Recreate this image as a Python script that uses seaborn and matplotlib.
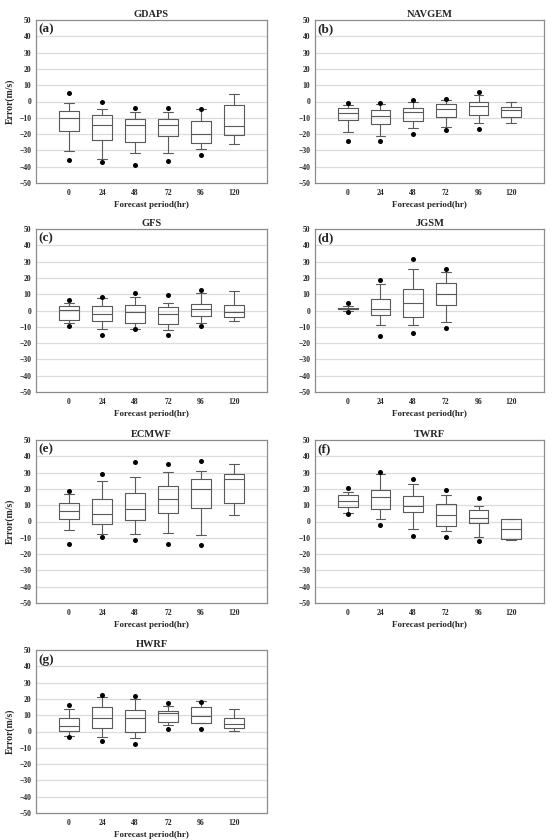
import numpy as np
import pandas as pd
import matplotlib
matplotlib.use("Agg")
import matplotlib.pyplot as plt
import seaborn as sns

# forecast lead times (x categories)
HOURS = ["0", "24", "48", "72", "96", "120"]

# box statistics (m/s): lower whisker, Q1, median, Q3, upper whisker, low/high outliers
GDAPS_WLO = [-30.6, -35.0, -31.9, -31.7, -29.2, -25.9]
GDAPS_Q1 = [-18.3, -23.8, -24.7, -21.4, -25.3, -20.8]
GDAPS_MED = [-10.4, -14.7, -14.7, -14.7, -19.8, -15.0]
GDAPS_Q3 = [-5.6, -8.3, -10.9, -10.9, -12.1, -1.9]
GDAPS_WHI = [-0.7, -4.5, -6.2, -6.2, -4.5, 4.3]
GDAPS_OLO = [-36.0, -37.2, -38.7, -36.4, -33.1, None]
GDAPS_OHI = [5.5, -0.5, -4.2, -4.2, -4.5, None]

NAVGEM_WLO = [-18.6, -21.0, -16.2, -15.6, -13.3, -13.1]
NAVGEM_Q1 = [-11.5, -13.5, -11.9, -9.5, -8.4, -9.6]
NAVGEM_MED = [-7.3, -9.2, -6.6, -4.4, -2.7, -5.3]
NAVGEM_Q3 = [-4.2, -5.5, -3.9, -1.3, -0.5, -3.1]
NAVGEM_WHI = [-2.3, -1.8, -0.6, 0.8, 3.7, 0.0]
NAVGEM_OLO = [-24.0, -24.4, -20.0, -17.4, -16.6, None]
NAVGEM_OHI = [-1.2, -0.8, 0.8, 1.6, 5.7, None]

GFS_WLO = [-7.8, -11.3, -11.3, -11.9, -7.6, -6.6]
GFS_Q1 = [-6.1, -6.6, -7.8, -8.4, -3.1, -3.9]
GFS_MED = [0.4, -2.0, -1.0, -2.3, 1.0, -1.0]
GFS_Q3 = [2.7, 2.9, 3.3, 2.3, 3.7, 3.3]
GFS_WHI = [4.9, 7.6, 8.4, 4.9, 10.5, 11.7]
GFS_OLO = [-9.8, -14.8, -11.5, -14.8, -9.8, None]
GFS_OHI = [6.4, 8.0, 10.5, 9.8, 12.6, None]

JGSM_WLO = [-0.5, -9.0, -8.6, -6.8, None, None]
JGSM_Q1 = [0.8, -2.9, -4.1, 3.3, None, None]
JGSM_MED = [1.2, 1.2, 4.5, 10.0, None, None]
JGSM_Q3 = [1.6, 6.8, 13.3, 16.8, None, None]
JGSM_WHI = [3.0, 16.4, 25.2, 23.6, None, None]
JGSM_OLO = [-1.2, -15.6, -13.9, -10.7, None, None]
JGSM_OHI = [4.4, 18.9, 31.8, 25.6, None, None]

ECMWF_WLO = [-5.1, -7.6, -7.4, -6.8, -8.0, 3.7]
ECMWF_Q1 = [1.8, -1.8, 0.8, 5.1, 8.0, 11.1]
ECMWF_MED = [6.6, 4.9, 7.4, 13.7, 20.1, 25.8]
ECMWF_Q3 = [11.1, 14.1, 17.2, 21.9, 25.8, 29.1]
ECMWF_WHI = [16.8, 25.0, 27.5, 30.1, 30.9, 35.5]
ECMWF_OLO = [-13.9, -9.8, -11.1, -14.1, -14.5, None]
ECMWF_OHI = [18.9, 28.9, 36.3, 35.0, 37.3, None]

TWRF_WLO = [5.3, 1.8, -4.9, -6.1, -9.8, -11.1]
TWRF_Q1 = [8.6, 7.8, 5.7, -2.9, -1.2, -10.9]
TWRF_MED = [12.7, 14.8, 9.8, 4.1, 2.0, -4.5]
TWRF_Q3 = [16.0, 19.5, 15.4, 10.7, 7.0, 1.4]
TWRF_WHI = [17.8, 29.1, 22.7, 16.2, 9.8, 1.6]
TWRF_OLO = [4.5, -2.3, -8.8, -9.8, -11.9, None]
TWRF_OHI = [20.5, 30.1, 25.8, 19.1, 14.3, None]

HWRF_WLO = [-2.5, -3.3, -3.9, 4.1, 5.1, 0.4]
HWRF_Q1 = [0.6, 2.3, 0.0, 5.9, 5.5, 2.0]
HWRF_MED = [3.5, 8.4, 8.0, 11.1, 9.8, 4.9]
HWRF_Q3 = [8.4, 15.0, 13.1, 12.7, 15.2, 8.4]
HWRF_WHI = [14.1, 21.3, 19.7, 15.8, 18.6, 13.7]
HWRF_OLO = [-3.3, -5.7, -7.4, 1.4, 1.8, None]
HWRF_OHI = [16.0, 22.5, 21.9, 17.6, 18.4, None]

sns.set_style("white")
plt.rcParams["font.family"] = ["Liberation Serif", "DejaVu Serif"]
plt.rcParams["font.weight"] = "bold"

BOX_COLOR = "#5a5a5a"
SPINE_COLOR = "#8c8c8c"
GRID_COLOR = "#dcdcdc"


def draw_panel(ax, name, letter, wlo, q1, med, q3, whi, olo, ohi, ylabel=False):
    # boxes from the precomputed statistics
    stats = []
    pos = []
    for i in range(len(HOURS)):
        if med[i] is None:
            continue
        stats.append(dict(med=med[i], q1=q1[i], q3=q3[i],
                          whislo=wlo[i], whishi=whi[i], fliers=[]))
        pos.append(i)
    lp = dict(color=BOX_COLOR, linewidth=0.8)
    ax.bxp(stats, positions=pos, widths=0.6, showfliers=False,
           boxprops=lp, medianprops=lp, whiskerprops=lp, capprops=lp,
           manage_ticks=False, zorder=2)

    # outliers as black dots
    out = pd.DataFrame({
        "x": list(range(len(HOURS))) * 2,
        "y": list(olo) + list(ohi),
    }).dropna()
    sns.scatterplot(data=out, x="x", y="y", color="black", s=13,
                    linewidth=0, ax=ax, zorder=3, legend=False)

    ax.set_xlim(-1.0, 6.0)
    ax.set_ylim(-50, 50)
    ax.set_yticks(np.arange(-50, 51, 10))
    ax.set_xticks(range(len(HOURS)), HOURS)
    for v in range(-40, 41, 10):
        ax.axhline(v, color=GRID_COLOR, linewidth=0.9, zorder=0)
    for s in ax.spines.values():
        s.set_visible(True)
        s.set_color(SPINE_COLOR)
        s.set_linewidth(0.9)
    ax.tick_params(axis="y", length=2, width=0.6, color=SPINE_COLOR,
                   labelsize=5.5, pad=1.5)
    ax.tick_params(axis="x", length=0, labelsize=5.5, pad=4)
    for lab in ax.get_xticklabels() + ax.get_yticklabels():
        lab.set_fontweight("bold")

    ax.set_title(name, fontsize=7.5, fontweight="bold", pad=2.5)
    ax.set_xlabel("Forecast period(hr)", fontsize=6.5, fontweight="bold", labelpad=3)
    if ylabel:
        ax.set_ylabel("Error(m/s)", fontsize=7, fontweight="bold", labelpad=3)
    else:
        ax.set_ylabel("")
    ax.text(0.01, 0.94, letter, transform=ax.transAxes, fontsize=9.5,
            fontweight="bold", va="center", ha="left")


fig = plt.figure(figsize=(5.52, 8.4), dpi=100)

H = 163 / 840
bottoms = [1 - 183 / 840, 1 - 392 / 840, 1 - 603 / 840, 1 - 813 / 840]
L_LEFT, L_W = 36 / 552, 231 / 552
R_LEFT, R_W = 315 / 552, 229 / 552

ax_a = fig.add_axes([L_LEFT, bottoms[0], L_W, H])
ax_b = fig.add_axes([R_LEFT, bottoms[0], R_W, H])
ax_c = fig.add_axes([L_LEFT, bottoms[1], L_W, H])
ax_d = fig.add_axes([R_LEFT, bottoms[1], R_W, H])
ax_e = fig.add_axes([L_LEFT, bottoms[2], L_W, H])
ax_f = fig.add_axes([R_LEFT, bottoms[2], R_W, H])
ax_g = fig.add_axes([L_LEFT, bottoms[3], L_W, H])

draw_panel(ax_a, "GDAPS", "(a)", GDAPS_WLO, GDAPS_Q1, GDAPS_MED, GDAPS_Q3,
           GDAPS_WHI, GDAPS_OLO, GDAPS_OHI, ylabel=True)
draw_panel(ax_b, "NAVGEM", "(b)", NAVGEM_WLO, NAVGEM_Q1, NAVGEM_MED, NAVGEM_Q3,
           NAVGEM_WHI, NAVGEM_OLO, NAVGEM_OHI)
draw_panel(ax_c, "GFS", "(c)", GFS_WLO, GFS_Q1, GFS_MED, GFS_Q3,
           GFS_WHI, GFS_OLO, GFS_OHI)
draw_panel(ax_d, "JGSM", "(d)", JGSM_WLO, JGSM_Q1, JGSM_MED, JGSM_Q3,
           JGSM_WHI, JGSM_OLO, JGSM_OHI)
draw_panel(ax_e, "ECMWF", "(e)", ECMWF_WLO, ECMWF_Q1, ECMWF_MED, ECMWF_Q3,
           ECMWF_WHI, ECMWF_OLO, ECMWF_OHI, ylabel=True)
draw_panel(ax_f, "TWRF", "(f)", TWRF_WLO, TWRF_Q1, TWRF_MED, TWRF_Q3,
           TWRF_WHI, TWRF_OLO, TWRF_OHI)
draw_panel(ax_g, "HWRF", "(g)", HWRF_WLO, HWRF_Q1, HWRF_MED, HWRF_Q3,
           HWRF_WHI, HWRF_OLO, HWRF_OHI, ylabel=True)

fig.savefig("out.png", dpi=100)
